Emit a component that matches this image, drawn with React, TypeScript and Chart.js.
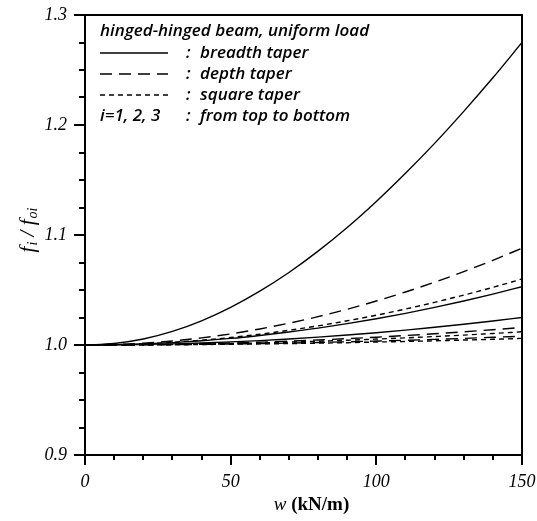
import React, { useEffect, useRef } from "react";
import { Chart, registerables } from "chart.js";

Chart.register(...registerables);

// ---- data ----
const loads = [0, 10, 20, 30, 40, 50, 60, 70, 80, 90, 100, 110, 120, 130, 140, 150];

const breadth1 = [1.0, 1.0014, 1.0055, 1.0124, 1.022, 1.0342, 1.0489, 1.0659, 1.0853, 1.1068, 1.1305, 1.1561, 1.1833, 1.2124, 1.2429, 1.275];
const breadth2 = [1.0, 1.0002, 1.001, 1.0022, 1.0039, 1.006, 1.0087, 1.0118, 1.0153, 1.0194, 1.0239, 1.0288, 1.0342, 1.04, 1.0463, 1.053];
const breadth3 = [1.0, 1.0001, 1.0005, 1.001, 1.0018, 1.0028, 1.004, 1.0055, 1.0072, 1.0091, 1.0112, 1.0135, 1.0161, 1.0188, 1.0218, 1.025];

const depth1 = [1.0, 1.0004, 1.0016, 1.0037, 1.0065, 1.0101, 1.0146, 1.0198, 1.0258, 1.0325, 1.04, 1.0482, 1.0571, 1.0667, 1.077, 1.088];
const depth2 = [1.0, 1.0001, 1.0003, 1.0006, 1.0011, 1.0018, 1.0026, 1.0035, 1.0046, 1.0058, 1.0071, 1.0086, 1.0102, 1.012, 1.0139, 1.016];
const depth3 = [1.0, 1.0, 1.0001, 1.0003, 1.0006, 1.0009, 1.0013, 1.0017, 1.0023, 1.0029, 1.0036, 1.0043, 1.0051, 1.006, 1.007, 1.008];

const square1 = [1.0, 1.0003, 1.0011, 1.0025, 1.0044, 1.0068, 1.0098, 1.0134, 1.0174, 1.022, 1.0271, 1.0327, 1.0388, 1.0454, 1.0524, 1.06];
const square2 = [1.0, 1.0001, 1.0002, 1.0005, 1.0009, 1.0013, 1.0019, 1.0026, 1.0034, 1.0043, 1.0054, 1.0065, 1.0077, 1.009, 1.0105, 1.012];
const square3 = [1.0, 1.0, 1.0001, 1.0002, 1.0004, 1.0007, 1.001, 1.0013, 1.0017, 1.0021, 1.0027, 1.0032, 1.0038, 1.0045, 1.0052, 1.006];

const yMajorTicks = [0.9, 1.0, 1.1, 1.2, 1.3];
const yTickLabels = ["0.9", "1.0", "1.1", "1.2", "1.3"];
const yMinorTicks = [0.925, 0.95, 0.975, 1.025, 1.05, 1.075, 1.125, 1.15, 1.175, 1.225, 1.25, 1.275];
const xMajorTicks = [0, 50, 100, 150];
const xTickLabels = ["0", "50", "100", "150"];
const xMinorTicks = [10, 20, 30, 40, 60, 70, 80, 90, 110, 120, 130, 140];

const legendTitle = "hinged-hinged beam, uniform load";
const legendEntries = ["breadth taper", "depth taper", "square taper"];
const legendNote = ["i=1, 2, 3", "from top to bottom"];

const SOLID: number[] = [];
const LONG_DASH = [12, 7];
const SHORT_DASH = [5, 4];

const LABEL_FONT = "italic 18px 'Liberation Serif'";
const LEGEND_FONT = "italic 600 17px 'Open Sans'";

const framePlugin = {
  id: "framePlugin",
  afterDraw(chart: any) {
    const { ctx, chartArea: a, scales } = chart;
    const xs = scales.x;
    const ys = scales.y;
    ctx.save();
    ctx.strokeStyle = "#000";
    ctx.fillStyle = "#000";

    // frame
    ctx.lineWidth = 2;
    ctx.strokeRect(a.left, a.top, a.right - a.left, a.bottom - a.top);

    // ticks
    ctx.lineWidth = 2;
    ctx.beginPath();
    yMajorTicks.forEach((v) => {
      const y = Math.round(ys.getPixelForValue(v));
      ctx.moveTo(a.left - 11, y);
      ctx.lineTo(a.left, y);
    });
    yMinorTicks.forEach((v) => {
      const y = Math.round(ys.getPixelForValue(v));
      ctx.moveTo(a.left - 6, y);
      ctx.lineTo(a.left, y);
    });
    xMajorTicks.forEach((v) => {
      const x = Math.round(xs.getPixelForValue(v));
      ctx.moveTo(x, a.bottom);
      ctx.lineTo(x, a.bottom + 10);
    });
    xMinorTicks.forEach((v) => {
      const x = Math.round(xs.getPixelForValue(v));
      ctx.moveTo(x, a.bottom);
      ctx.lineTo(x, a.bottom + 5);
    });
    ctx.stroke();

    // tick labels
    ctx.font = LABEL_FONT;
    ctx.textAlign = "right";
    ctx.textBaseline = "middle";
    yMajorTicks.forEach((v, i) => {
      ctx.fillText(yTickLabels[i], a.left - 18, ys.getPixelForValue(v));
    });
    ctx.textAlign = "center";
    xMajorTicks.forEach((v, i) => {
      ctx.fillText(xTickLabels[i], xs.getPixelForValue(v), a.bottom + 27);
    });

    // x title: w (kN/m)
    {
      const cx = (a.left + a.right) / 2 + 8;
      const cy = a.bottom + 50;
      ctx.textAlign = "left";
      ctx.textBaseline = "middle";
      const p1 = "w";
      const p2 = " (kN/m)";
      ctx.font = "italic 19px 'Liberation Serif'";
      const w1 = ctx.measureText(p1).width;
      ctx.font = "bold 19px 'Liberation Serif'";
      const w2 = ctx.measureText(p2).width;
      let x = cx - (w1 + w2) / 2;
      ctx.font = "italic 19px 'Liberation Serif'";
      ctx.fillText(p1, x, cy);
      x += w1;
      ctx.font = "bold 19px 'Liberation Serif'";
      ctx.fillText(p2, x, cy);
    }

    // y title: f_i / f_oi
    {
      ctx.save();
      ctx.translate(28, (a.top + a.bottom) / 2 - 5);
      ctx.rotate(-Math.PI / 2);
      const big = "italic 21px 'Liberation Serif'";
      const sub = "italic 14px 'Liberation Serif'";
      const parts: [string, string, number][] = [
        ["f", big, 0],
        ["i", sub, 5],
        [" / ", big, 0],
        ["f", big, 0],
        ["oi", sub, 5],
      ];
      let total = 0;
      parts.forEach(([t, f]) => {
        ctx.font = f;
        total += ctx.measureText(t).width + (t === "f" ? 1 : 0);
      });
      let x = -total / 2;
      ctx.textAlign = "left";
      ctx.textBaseline = "middle";
      parts.forEach(([t, f, dy]) => {
        ctx.font = f;
        ctx.fillText(t, x, dy);
        x += ctx.measureText(t).width + (t === "f" ? 1 : 0);
      });
      ctx.restore();
    }

    // legend
    {
      const lx = a.left + 15;
      const rowY = [31, 53, 74, 95, 116];
      const colonX = 186;
      const textX = 200;
      ctx.font = LEGEND_FONT;
      ctx.textAlign = "left";
      ctx.textBaseline = "middle";
      ctx.fillText(legendTitle, lx, rowY[0]);
      const dashes = [SOLID, LONG_DASH, SHORT_DASH];
      legendEntries.forEach((t, i) => {
        const y = rowY[i + 1];
        ctx.save();
        ctx.lineWidth = 1.3;
        ctx.setLineDash(dashes[i]);
        ctx.beginPath();
        ctx.moveTo(lx, y);
        ctx.lineTo(lx + 68, y);
        ctx.stroke();
        ctx.restore();
        ctx.fillText(":", colonX, y);
        ctx.fillText(t, textX, y);
      });
      ctx.fillText(legendNote[0], lx, rowY[4]);
      ctx.fillText(":", colonX, rowY[4]);
      ctx.fillText(legendNote[1], textX, rowY[4]);
    }

    ctx.restore();
  },
};

function series(label: string, data: number[], dash: number[]) {
  return {
    label,
    data: loads.map((w, i) => ({ x: w, y: data[i] })),
    borderColor: "#000",
    borderWidth: 1.4,
    borderDash: dash,
    pointRadius: 0,
    fill: false,
    cubicInterpolationMode: "monotone" as const,
  };
}

export default function App() {
  const ref = useRef<HTMLCanvasElement | null>(null);
  useEffect(() => {
    document.body.style.margin = "0";
    const canvas = ref.current!;
    const chart = new Chart(canvas, {
      type: "line",
      data: {
        datasets: [
          series("breadth 1", breadth1, SOLID),
          series("breadth 2", breadth2, SOLID),
          series("breadth 3", breadth3, SOLID),
          series("depth 1", depth1, LONG_DASH),
          series("depth 2", depth2, LONG_DASH),
          series("depth 3", depth3, LONG_DASH),
          series("square 1", square1, SHORT_DASH),
          series("square 2", square2, SHORT_DASH),
          series("square 3", square3, SHORT_DASH),
        ],
      },
      options: {
        animation: false,
        responsive: false,
        devicePixelRatio: 1,
        layout: { padding: { left: 85, top: 15, right: 15, bottom: 66 } },
        scales: {
          x: { type: "linear", min: 0, max: 150, display: false },
          y: { type: "linear", min: 0.9, max: 1.3, display: false },
        },
        plugins: { legend: { display: false }, tooltip: { enabled: false } },
      },
      plugins: [framePlugin],
    });
    return () => chart.destroy();
  }, []);
  return (
    <div style={{ width: 537, height: 521, background: "#fff" }}>
      <canvas ref={ref} width={537} height={521} style={{ display: "block" }} />
    </div>
  );
}
